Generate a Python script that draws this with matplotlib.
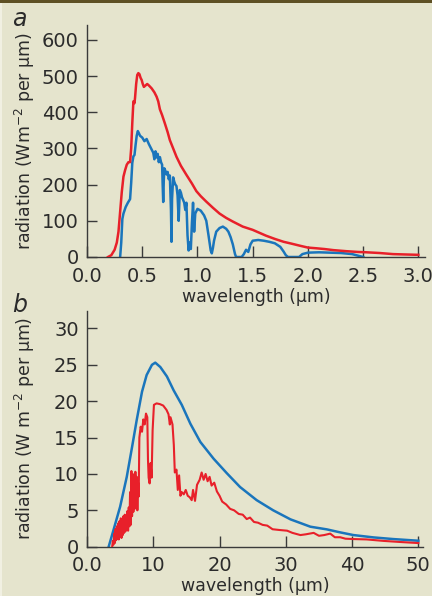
import matplotlib
matplotlib.use("Agg")
import matplotlib.pyplot as plt
from matplotlib.patches import Rectangle

# ---------------- data: panel a (solar) ----------------
a_red_wl = [0.19, 0.22, 0.25, 0.27, 0.285, 0.30, 0.315, 0.33, 0.345, 0.36, 0.375, 0.39, 0.40, 0.41,
            0.42, 0.43, 0.435, 0.445, 0.455, 0.465, 0.475, 0.485, 0.495, 0.505, 0.515, 0.53, 0.545,
            0.56, 0.585, 0.61, 0.63, 0.645, 0.66, 0.68, 0.705, 0.73, 0.75, 0.78, 0.81, 0.85, 0.90,
            0.95, 0.99, 1.03, 1.08, 1.14, 1.20, 1.26, 1.32, 1.41, 1.50, 1.56, 1.62, 1.70, 1.78,
            1.85, 1.93, 2.00, 2.08, 2.15, 2.23, 2.35, 2.45, 2.53, 2.65, 2.77, 2.88, 3.0]
a_red_val = [0, 5, 20, 40, 70, 125, 180, 222, 240, 255, 262, 262, 300, 370,
             430, 425, 440, 478, 503, 508, 505, 495, 489, 478, 470, 474, 478,
             474, 466, 455, 443, 430, 408, 392, 369, 345, 323, 300, 277, 252, 227,
             203, 182, 168, 153, 136, 120, 108, 98, 84, 75, 67, 59, 50, 42,
             37, 31, 26, 24, 22, 19, 16, 14, 13, 11, 8, 7, 6]

a_blue_wl = [0.30, 0.31, 0.32, 0.33, 0.35, 0.37, 0.39, 0.40, 0.41, 0.42, 0.43, 0.44, 0.45, 0.46,
             0.47, 0.48, 0.50, 0.52, 0.54, 0.56, 0.58, 0.60, 0.61, 0.62, 0.63, 0.64, 0.65, 0.66,
             0.67, 0.68, 0.685, 0.69, 0.695, 0.70, 0.71, 0.72, 0.73, 0.74, 0.75, 0.76, 0.765,
             0.77, 0.78, 0.79, 0.80, 0.81, 0.82, 0.83, 0.84, 0.85, 0.86, 0.87, 0.88, 0.89, 0.90,
             0.91, 0.92, 0.93, 0.94, 0.95, 0.96, 0.97, 0.98, 1.00, 1.03, 1.06, 1.08, 1.10, 1.12,
             1.13, 1.14, 1.15, 1.17, 1.20, 1.23, 1.26, 1.28, 1.30, 1.32, 1.34, 1.35, 1.40, 1.42,
             1.44, 1.46, 1.48, 1.50, 1.55, 1.60, 1.65, 1.70, 1.75, 1.78, 1.80, 1.82, 1.85, 1.92,
             1.95, 2.00, 2.10, 2.20, 2.30, 2.40, 2.45, 2.50]
a_blue_val = [0, 40, 105, 120, 138, 150, 160, 205, 260, 278, 282, 310, 335, 348,
              342, 335, 330, 320, 326, 312, 300, 288, 270, 292, 275, 285, 262, 276,
              262, 255, 200, 152, 210, 245, 238, 228, 235, 215, 225, 130, 42,
              160, 220, 208, 200, 196, 170, 100, 185, 178, 165, 158, 150, 130, 150,
              60, 18, 40, 22, 95, 150, 70, 120, 133, 128, 115, 100, 60, 18,
              10, 25, 45, 70, 80, 84, 78, 70, 55, 35, 8, 0, 0, 8,
              20, 14, 35, 45, 47, 45, 42, 38, 28, 15, 5, 0, 0, 0,
              8, 12, 13, 12, 11, 8, 4, 0]

# ---------------- data: panel b (terrestrial) ----------------
b_blue_wl = [3.27, 4.0, 5.0, 6.0, 6.8, 7.5, 8.3, 9.0, 9.8, 10.3, 11.06, 12.06, 13.07, 14.3, 15.6,
             17.1, 19.1, 21.1, 23.1, 25.6, 28.1, 30.7, 33.7, 36.2, 38.2, 40.2, 43.2, 46.2, 50.0]
b_blue_val = [0, 2.3, 5.5, 9.6, 13.7, 17.4, 21.3, 23.6, 25.0, 25.3, 24.7, 23.4, 21.5, 19.5, 16.9,
              14.4, 12.1, 10.1, 8.2, 6.4, 5.0, 3.76, 2.75, 2.38, 1.97, 1.6, 1.28, 1.05, 0.82]

b_red_wl = [3.8, 3.9, 4.0, 4.1, 4.2, 4.3, 4.4, 4.5, 4.6, 4.7, 4.8, 4.9, 5.0, 5.1, 5.2, 5.3, 5.4,
            5.5, 5.6, 5.7, 5.8, 5.9, 6.0, 6.1, 6.2, 6.3, 6.4, 6.5, 6.6, 6.7, 6.8, 6.9, 7.0, 7.1,
            7.2, 7.3, 7.4, 7.5, 7.6, 7.7, 7.8, 7.9, 8.1, 8.3, 8.5, 8.7, 8.9, 9.1, 9.2, 9.3, 9.45,
            9.6, 9.75, 9.9, 10.1, 10.5, 11.0, 11.5, 12.0, 12.3, 12.5, 12.6, 12.9, 13.1, 13.25,
            13.5, 13.7, 13.9, 14.1, 14.3, 14.6, 14.9, 15.2, 15.5, 15.8, 16.0, 16.3, 16.6, 17.0,
            17.3, 17.6, 17.9, 18.2, 18.5, 18.8, 19.2, 19.6, 20.0, 20.4, 21.0, 21.6, 22.2, 22.9,
            23.5, 24.1, 24.6, 25.2, 25.8, 26.5, 27.2, 28.0, 29.0, 30.2, 31.0, 32.2, 33.0, 34.2,
            35.0, 35.8, 36.7, 37.4, 38.2, 39.0, 40.2, 42.2, 44.7, 47.2, 50.0]
b_red_val = [0, 0.8, 0.3, 1.8, 0.5, 2.4, 0.9, 2.8, 1.1, 3.2, 1.0, 3.5, 1.4, 3.9, 1.2, 3.6, 1.6,
             4.2, 1.9, 4.4, 2.1, 4.0, 2.4, 4.9, 2.2, 5.4, 2.8, 7.5, 3.0, 10.4, 4.2, 10.0, 4.8, 9.5,
             5.2, 10.3, 6.5, 9.6, 5.0, 8.8, 6.9, 15.0, 16.5, 15.8, 17.5, 16.8, 18.3, 17.8, 12.0,
             9.5, 8.7, 11.5, 9.5, 16.0, 19.5, 19.7, 19.6, 19.4, 18.8, 18.2, 16.8, 17.8, 16.8, 14.0,
             10.2, 10.6, 7.8, 9.8, 7.0, 7.5, 7.2, 7.8, 7.0, 6.8, 6.4, 7.8, 6.3, 8.5, 9.2, 10.2,
             9.2, 10.0, 9.0, 9.6, 8.4, 8.8, 7.6, 7.0, 6.2, 5.8, 5.2, 5.0, 4.5, 4.4, 3.8, 4.0,
             3.4, 3.3, 3.0, 2.9, 2.4, 2.3, 2.2, 1.9, 1.6, 1.7, 1.9, 1.5, 1.6, 1.8, 1.3, 1.3,
             1.1, 1.05, 1.0, 0.8, 0.65, 0.5]

a_xticks = [0.0, 0.5, 1.0, 1.5, 2.0, 2.5, 3.0]
a_xticklabels = ["0.0", "0.5", "1.0", "1.5", "2.0", "2.5", "3.0"]
a_yticks = [0, 100, 200, 300, 400, 500, 600]
b_xticks = [0, 10, 20, 30, 40, 50]
b_xticklabels = ["0.0", "10", "20", "30", "40", "50"]
b_yticks = [0, 5, 10, 15, 20, 25, 30]

# ---------------- style ----------------
BG = "#e5e4cd"
RED = "#e8202a"
BLUE = "#1a75bc"
TXT = "#2b2b2b"
SPINE = "#3a3a3a"

plt.rcParams["font.family"] = ["DejaVu Sans"]
plt.rcParams["mathtext.fontset"] = "dejavusans"

W, H = 432, 596
fig = plt.figure(figsize=(W / 100, H / 100), dpi=100, facecolor=BG)

# top dark strip and thin left light strip
fig.patches.append(Rectangle((0, 1 - 3 / H), 1, 3 / H, transform=fig.transFigure,
                             facecolor="#5e5024", edgecolor="none", zorder=0))
fig.patches.append(Rectangle((0, 0), 2 / W, 1 - 3 / H, transform=fig.transFigure,
                             facecolor="#f1f0e2", edgecolor="none", zorder=0))


def style_axes(ax):
    ax.set_facecolor("none")
    for s in ["top", "right"]:
        ax.spines[s].set_visible(False)
    for s in ["left", "bottom"]:
        ax.spines[s].set_color(SPINE)
        ax.spines[s].set_linewidth(1.0)
    ax.tick_params(axis="both", direction="in", colors=SPINE, labelcolor=TXT,
                   labelsize=14, width=1.0)
    ax.tick_params(axis="y", length=7.5, pad=6)
    ax.tick_params(axis="x", length=8, pad=7)


# panel a
ax1 = fig.add_axes([87 / W, (H - 257) / H, (425 - 87) / W, (257 - 25) / H])
ax1.plot(a_red_wl, a_red_val, color=RED, lw=1.8, zorder=3)
ax1.plot(a_blue_wl, a_blue_val, color=BLUE, lw=1.8, zorder=2)
ax1.set_xlim(0, 3.06)
ax1.set_ylim(0, 641)
ax1.set_xticks(a_xticks)
ax1.set_xticklabels(a_xticklabels)
ax1.set_yticks(a_yticks)
style_axes(ax1)
ax1.set_xlabel("wavelength (µm)", fontsize=12.5, color=TXT, labelpad=2)
ax1.set_ylabel(r"radiation (Wm$^{-2}$ per µm)", fontsize=12.5, color=TXT)
ax1.yaxis.set_label_coords((37 - 87) / 338, 0.5)
fig.text(12 / W, 1 - 26 / H, "a", fontsize=17, style="italic", color=TXT)

# panel b
ax2 = fig.add_axes([87 / W, (H - 546.7) / H, (423 - 87) / W, (546.7 - 311) / H])
ax2.plot(b_blue_wl, b_blue_val, color=BLUE, lw=1.8, zorder=2)
ax2.plot(b_red_wl, b_red_val, color=RED, lw=1.5, zorder=3)
ax2.set_xlim(0, 50.7)
ax2.set_ylim(0, 32.4)
ax2.set_xticks(b_xticks)
ax2.set_xticklabels(b_xticklabels)
ax2.set_yticks(b_yticks)
style_axes(ax2)
ax2.set_xlabel("wavelength (µm)", fontsize=12.5, color=TXT, labelpad=1)
ax2.set_ylabel(r"radiation (W m$^{-2}$ per µm)", fontsize=12.5, color=TXT)
ax2.yaxis.set_label_coords((37 - 87) / 336, 0.5)
fig.text(12 / W, 1 - 312 / H, "b", fontsize=17, style="italic", color=TXT)

fig.savefig("out.png", dpi=100, facecolor=BG)
